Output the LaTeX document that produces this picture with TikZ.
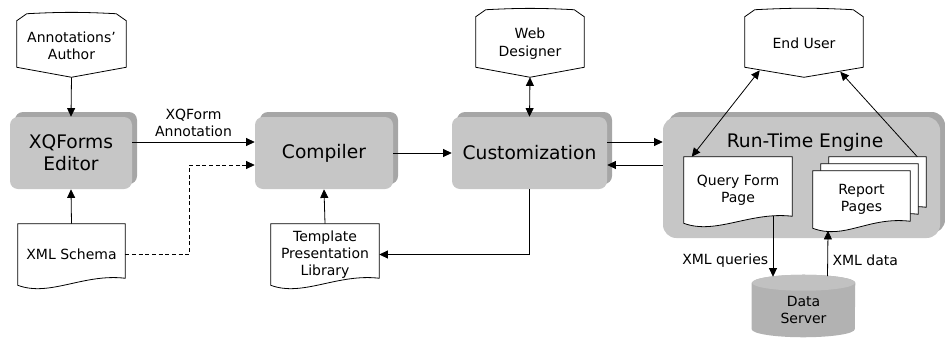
\documentclass[tikz,border=0pt]{standalone}
\usepackage{fontspec}
\setmainfont{DejaVu Sans}
\usepackage{tikz}
\usetikzlibrary{arrows.meta}
\usetikzlibrary{positioning}
\usetikzlibrary{calc}
\usetikzlibrary{shadows,backgrounds}
\definecolor{facegray}{HTML}{C6C6C6}
\definecolor{bevelgray}{HTML}{A6A6A6}
\definecolor{dbgray}{HTML}{B2B2B2}
\newcommand{\px}{0.75pt}
\tikzset{
  smalltext/.style = {font=\fontsize{10.5}{13}\selectfont, align=center},
  bigtext/.style = {font=\fontsize{14}{16.5}\selectfont, align=center},
  procbox/.style = {bigtext, fill=facegray, rounded corners=6pt, inner sep=0pt,
    minimum height=72*\px,
    general shadow={shadow xshift=3.75pt, shadow yshift=3.75pt, fill=bevelgray}},% grey process box
  actor/.style = {smalltext, inner sep=0pt},% person, outline drawn later
  docu/.style = {smalltext, inner sep=0pt},% document, outline drawn later
  outline/.style = {draw=black, fill=white, line width=0.6pt},
  conn/.style = {line width=0.6pt}
}

\begin{document}
\begin{tikzpicture}[x=\px, y=\px, >={Triangle[length=6.5pt,width=6pt]}]
\useasboundingbox (0,0) rectangle (945,337);

% people
\node [actor, minimum width=109*\px, minimum height=63*\px] (author) at (71.5,291.5) {Annotations'\\Author};
\node [actor, minimum width=108*\px, minimum height=67*\px] (designer) at (530,293.5) {Web\\Designer};
\node [actor, minimum width=118*\px, minimum height=67*\px] (enduser) at (804,293.5) {End User};

% process boxes
\node [procbox, minimum width=122*\px] (editor) at (71,184) {XQForms\\Editor};
\node [procbox, minimum width=138*\px] (compiler) at (324,184) {Compiler};
\node [procbox, minimum width=155*\px] (custom) at (529.5,184) {Customization};

% documents
\node [docu, minimum width=107*\px, minimum height=61*\px] (xml) at (71.5,82.5) {XML Schema};
\node [docu, minimum width=108*\px, minimum height=61*\px] (template) at (325,82.5) {Template\\Presentation\\Library};
\node [docu, minimum width=108*\px, minimum height=66*\px] (query) at (738,147) {Query Form\\Page};
\node [docu, minimum width=97*\px, minimum height=57*\px] (report) at (861.5,137.5) {Report\\Pages};

% data server
\node [smalltext, minimum width=103*\px, minimum height=46*\px, inner sep=0pt] (data) at (803.5,27) {Data\\Server};

\node [bigtext] (rtetitle) at (805,195) {Run-Time Engine};

\begin{scope}[on background layer]
\node [procbox, minimum width=277*\px, minimum height=121*\px, rounded corners=10pt] (engine) at (801.5,159.5) {};
\foreach \n in {author,designer,enduser}
  \draw[outline] ($(\n.south west)+(0,10)$) -- ($(\n.north west)+(0,-7)$) -- ($(\n.north west)+(10,0)$)
    to[bend left=3] ($(\n.north east)+(-10,0)$) -- ($(\n.north east)+(0,-7)$) -- ($(\n.south east)+(0,10)$)
    -- (\n.south) -- cycle;
\foreach \n in {xml,template,query}
  \draw[outline] (\n.south west) -- (\n.north west) -- (\n.north east) -- ($(\n.south east)+(0,7)$)
    .. controls +(-42,5) and +(32,-12) .. (\n.south west) -- cycle;
\foreach \dx/\dy in {16/14,8/7,0/0}
  \draw[outline] ($(report.south west)+(\dx,\dy)$) -- ($(report.north west)+(\dx,\dy)$)
    -- ($(report.north east)+(\dx,\dy)$) -- ($(report.south east)+(\dx,\dy+7)$)
    .. controls +(-42,5) and +(32,-12) .. ($(report.south west)+(\dx,\dy)$) -- cycle;
\fill[dbgray] ($(data.north west)+(0,4)$) -- ($(data.south west)+(0,4)$) arc[start angle=180, end angle=360, x radius=51.5, y radius=8]
  -- ($(data.north east)+(0,4)$) arc[start angle=0, end angle=180, x radius=51.5, y radius=8] -- cycle;
\fill[dbgray!80!white] ($(data.north)+(0,4)$) ellipse [x radius=51.5, y radius=8];
\end{scope}

% connectors
\path ([yshift=8.25pt]custom.east) coordinate (cout)
      ([yshift=-9pt]custom.east) coordinate (cin);
\draw[conn,->] (author.south) -- (editor.north);
\draw[conn,->] ([yshift=8.25pt]editor.east) -- node[smalltext, above] {XQForm\\Annotation} ([yshift=8.25pt]compiler.west);
\draw[conn,->, dash pattern=on 3pt off 2pt] (xml.east) -- ++(64,0) |- ([yshift=-9pt]compiler.west);
\draw[conn,->] (xml.north) -- (editor.south);
\draw[conn,->] (template.north) -- (compiler.south);
\draw[conn,->] (compiler.east) -- (custom.west);
\draw[conn,<->] (designer.south) -- (custom.north);
\draw[conn,->] (custom.south) |- (template.east);
\draw[conn,->] (cout) -- (cout -| engine.west);
\draw[conn,<-] (cin) -- (cin -| engine.west);
\draw[conn,<->] ([shift={(15,7)}]enduser.south west) -- ([shift={(8,0)}]query.north west);
\draw[conn,->] ([shift={(7,14)}]report.north east) -- ([shift={(-23,5.5)}]enduser.south east);
\draw[conn,->] ([shift={(35,7)}]query.south) -- node[smalltext, left, pos=0.73] {XML queries} ([shift={(-30.5,10)}]data.north);
\draw[conn,->] ([shift={(24,10.5)}]data.north) -- node[smalltext, right, pos=0.36] {XML data} ([shift={(-33.5,-2.5)}]report.south);
\end{tikzpicture}
\end{document}
